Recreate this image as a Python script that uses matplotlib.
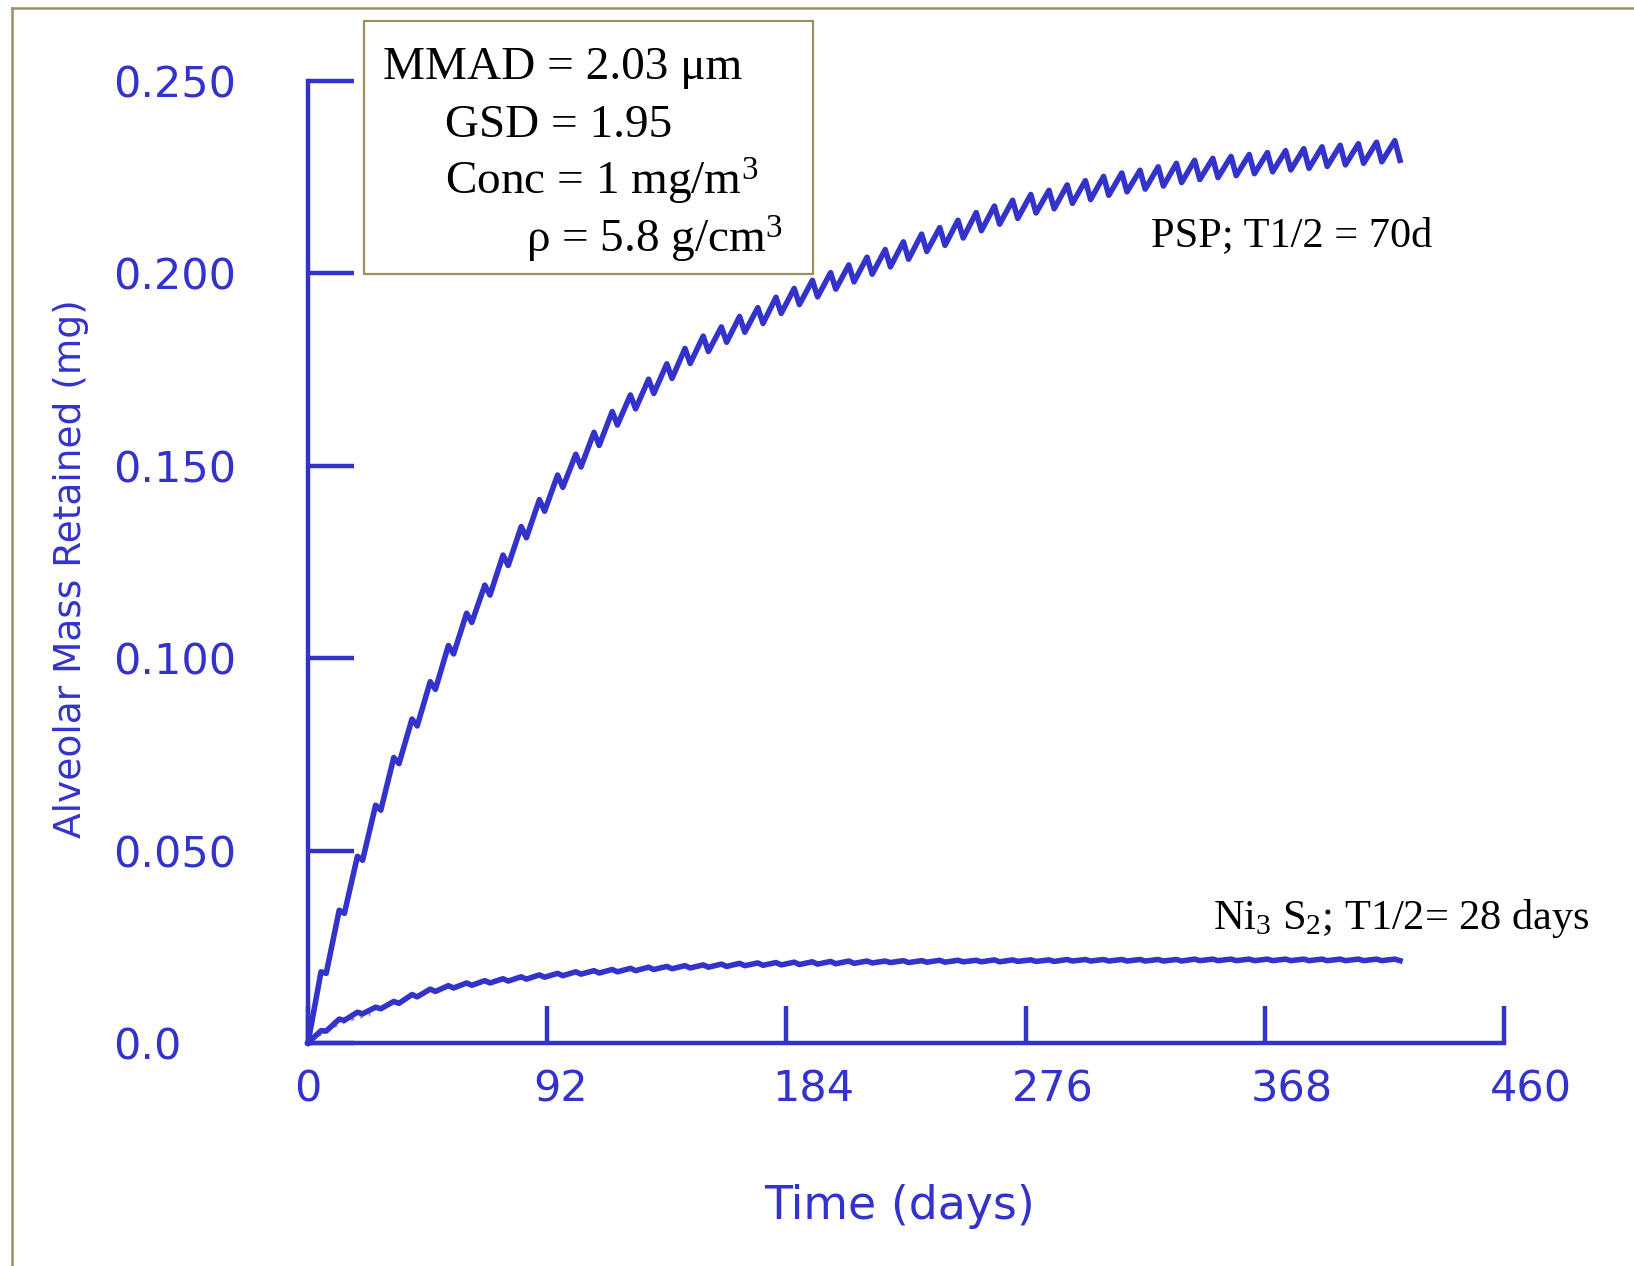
import matplotlib
matplotlib.use("Agg")
import matplotlib.pyplot as plt
from matplotlib.patches import Rectangle
from matplotlib.lines import Line2D
from matplotlib.transforms import ScaledTranslation

plt.rcParams['mathtext.fontset'] = 'custom'
plt.rcParams['mathtext.rm'] = 'Liberation Serif'
plt.rcParams['mathtext.it'] = 'Liberation Serif:italic'

# weekly exposure: 5 days on, 2 days off, 60 weeks
week_start = list(range(0, 421, 7))
exposure_days = 5

# PSP, T1/2 = 70 d : value at start of week (trough) and end of Friday (peak), mg
psp_trough = [0.0000, 0.0181, 0.0337, 0.0475, 0.0605, 0.0726, 0.0824, 0.0919, 0.1011, 0.1093,
              0.1164, 0.1241, 0.1313, 0.1382, 0.1444, 0.1497, 0.1553, 0.1606, 0.1648, 0.1688,
              0.1727, 0.1766, 0.1797, 0.1821, 0.1847, 0.1870, 0.1896, 0.1919, 0.1939, 0.1959,
              0.1978, 0.1998, 0.2017, 0.2037, 0.2057, 0.2073, 0.2092, 0.2111, 0.2128, 0.2143,
              0.2157, 0.2168, 0.2182, 0.2192, 0.2203, 0.2212, 0.2219, 0.2227, 0.2236, 0.2244,
              0.2249, 0.2254, 0.2259, 0.2264, 0.2269, 0.2273, 0.2278, 0.2282, 0.2286, 0.2290,
              0.2294]
psp_peak = [0.0185, 0.0345, 0.0485, 0.0618, 0.0742, 0.0842, 0.0939, 0.1033, 0.1117, 0.1190,
            0.1268, 0.1342, 0.1412, 0.1476, 0.1530, 0.1587, 0.1641, 0.1684, 0.1725, 0.1765,
            0.1805, 0.1837, 0.1861, 0.1888, 0.1911, 0.1938, 0.1961, 0.1982, 0.2002, 0.2022,
            0.2042, 0.2062, 0.2082, 0.2102, 0.2119, 0.2138, 0.2158, 0.2175, 0.2190, 0.2205,
            0.2216, 0.2230, 0.2241, 0.2252, 0.2261, 0.2268, 0.2277, 0.2286, 0.2294, 0.2299,
            0.2304, 0.2309, 0.2314, 0.2319, 0.2324, 0.2329, 0.2333, 0.2337, 0.2341, 0.2345]

# Ni3S2, T1/2 = 28 d
ni_trough = [0.0000, 0.0031, 0.0059, 0.0076, 0.0089, 0.0103, 0.0120, 0.0134, 0.0143, 0.0150,
             0.0156, 0.0161, 0.0166, 0.0171, 0.0175, 0.0179, 0.0182, 0.0185, 0.0188, 0.0191,
             0.0193, 0.0195, 0.0197, 0.0199, 0.0201, 0.0202, 0.0203, 0.0204, 0.0205, 0.0206,
             0.0207, 0.0208, 0.0209, 0.0209, 0.0210, 0.0210, 0.0211, 0.0211, 0.0211, 0.0212,
             0.0212, 0.0212, 0.0213, 0.0213, 0.0213, 0.0213, 0.0213, 0.0213, 0.0213, 0.0214,
             0.0214, 0.0214, 0.0214, 0.0214, 0.0214, 0.0214, 0.0214, 0.0214, 0.0214, 0.0214,
             0.0214]
ni_peak = [0.0032, 0.0062, 0.0080, 0.0093, 0.0108, 0.0126, 0.0140, 0.0149, 0.0156, 0.0162,
           0.0167, 0.0172, 0.0177, 0.0181, 0.0185, 0.0188, 0.0191, 0.0194, 0.0197, 0.0199,
           0.0201, 0.0203, 0.0205, 0.0207, 0.0208, 0.0209, 0.0210, 0.0211, 0.0212, 0.0213,
           0.0213, 0.0213, 0.0214, 0.0214, 0.0215, 0.0215, 0.0215, 0.0216, 0.0216, 0.0216,
           0.0216, 0.0217, 0.0217, 0.0217, 0.0217, 0.0217, 0.0217, 0.0217, 0.0218, 0.0218,
           0.0218, 0.0218, 0.0218, 0.0218, 0.0218, 0.0218, 0.0218, 0.0218, 0.0218, 0.0218]

# faint grey trace under the Ni curve near the origin
shadow_day = [1, 4, 8, 12, 16, 20, 24]
shadow_val = [0.0005, 0.0020, 0.0036, 0.0050, 0.0060, 0.0068, 0.0074]

x_ticks = [0, 92, 184, 276, 368, 460]
y_ticks = [0.0, 0.05, 0.10, 0.15, 0.20, 0.25]
y_tick_labels = ['0.0', '0.050', '0.100', '0.150', '0.200', '0.250']

box_lines = ['MMAD = 2.03 \u03bcm', 'GSD = 1.95', 'Conc = 1 mg/m$^3$', '\u03c1 = 5.8 g/cm$^3$']


def sawtooth(trough, peak):
    xs, ys = [], []
    for w in range(len(peak)):
        xs += [week_start[w], week_start[w] + exposure_days]
        ys += [trough[w], peak[w]]
    xs.append(week_start[len(peak)])
    ys.append(trough[len(peak)])
    return xs, ys


W, H = 1634, 1266
blue = '#3333CC'
olive = '#9A9160'

fig = plt.figure(figsize=(W / 100, H / 100), dpi=100)
ax = fig.add_axes([308 / W, 1 - 1043 / H, (1504 - 308) / W, (1043 - 81) / H])

px, py = sawtooth(psp_trough, psp_peak)
ax.plot(px, py, color=blue, lw=4.0, clip_on=False)
nx, ny = sawtooth(ni_trough, ni_peak)
ax.plot(shadow_day, shadow_val, color='#9a9aae', lw=2.5, ls=':', clip_on=False)
ax.plot(nx, ny, color=blue, lw=4.0, clip_on=False)

ax.set_xlim(0, 460)
ax.set_ylim(0, 0.25)
for s in ['top', 'right']:
    ax.spines[s].set_visible(False)
for s in ['left', 'bottom']:
    ax.spines[s].set_color(blue)
    ax.spines[s].set_linewidth(3.2)

ax.set_xticks(x_ticks)
ax.set_xticklabels([str(v) for v in x_ticks])
ax.set_yticks(y_ticks)
ax.set_yticklabels(y_tick_labels)
ax.tick_params(axis='x', direction='in', length=26.5, width=3.2, color=blue,
               labelcolor=blue, labelsize=31, pad=18)
ax.tick_params(axis='y', direction='in', length=33, width=3.2, color=blue,
               labelcolor=blue, labelsize=31, pad=140)
for lbl in ax.get_yticklabels():
    lbl.set_ha('left')
for lbl in ax.get_xticklabels():
    lbl.set_ha('left')
    lbl.set_transform(lbl.get_transform() + ScaledTranslation(-0.14, 0, fig.dpi_scale_trans))

fig.text(71 / W, 1 - 569 / H, 'Alveolar Mass Retained (mg)', rotation=90, color=blue,
         fontsize=27, ha='center', va='center')
fig.text(900 / W, 1 - 1219 / H, 'Time (days)', color=blue, fontsize=33,
         ha='center', va='baseline')

# parameter box
fig.patches.append(Rectangle((364 / W, 1 - 274 / H), (813 - 364) / W, (274 - 21) / H,
                             transform=fig.transFigure, fill=True, fc='white',
                             ec=olive, lw=1.6, zorder=3))
box_x = [383, 445, 445, 526]
box_base = [79, 137, 195, 253]
for t, bx, by in zip(box_lines, box_x, box_base):
    fig.text(bx / W, 1 - by / H, t, family='Liberation Serif', fontsize=34,
             color='black', va='baseline', ha='left', zorder=4)

fig.text(1151 / W, 1 - 246 / H, 'PSP; T1/2 = 70d', family='Liberation Serif',
         fontsize=30.5, va='baseline', ha='left')
fig.text(1213 / W, 1 - 929 / H, 'Ni$_3$ S$_2$; T1/2= 28 days', family='Liberation Serif',
         fontsize=30.5, va='baseline', ha='left')

# slide frame lines (top and left)
fig.lines.append(Line2D([12 / W, 1], [1 - 8 / H, 1 - 8 / H], transform=fig.transFigure,
                        color=olive, lw=1.8))
fig.lines.append(Line2D([12 / W, 12 / W], [0, 1 - 8 / H], transform=fig.transFigure,
                        color=olive, lw=1.8))

fig.savefig('out.png', dpi=100)
